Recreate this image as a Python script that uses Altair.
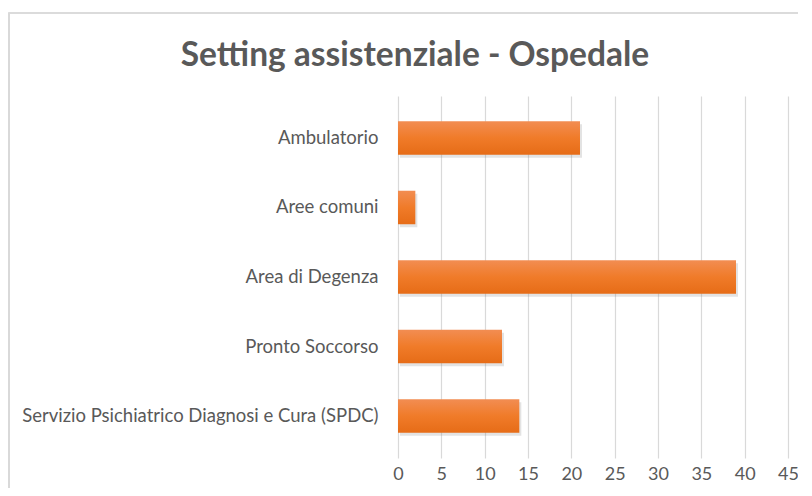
import altair as alt
import pandas as pd

categories = [
    "Ambulatorio",
    "Aree comuni",
    "Area di Degenza",
    "Pronto Soccorso",
    "Servizio Psichiatrico Diagnosi e Cura (SPDC)",
]
values = [21, 2, 39, 12, 14]
x_ticks = [0, 5, 10, 15, 20, 25, 30, 35, 40, 45]

df = pd.DataFrame({"setting": categories, "valore": values})

FONT = "Lato"
GREY = "#595959"

x_enc = alt.X(
    "valore:Q",
    scale=alt.Scale(domain=[0, 45], nice=False),
    axis=alt.Axis(
        values=x_ticks,
        title=None,
        domain=False,
        ticks=False,
        grid=True,
        gridColor="#d9d9d9",
        gridWidth=1.2,
        labelColor=GREY,
        labelFont=FONT,
        labelFontSize=18,
        labelPadding=7,
        labelFlush=False,
    ),
)
y_enc = alt.Y(
    "setting:N",
    sort=categories,
    scale=alt.Scale(paddingInner=0.518, paddingOuter=0.363),
    axis=alt.Axis(
        title=None,
        domain=False,
        ticks=False,
        grid=False,
        labelColor=GREY,
        labelFont=FONT,
        labelFontSize=18.5,
        labelPadding=20,
        labelLimit=500,
    ),
)

frame = alt.Chart(df).mark_rect(
    fill=None, stroke="#d9d9d9", strokeWidth=1.2, clip=False
).encode(
    x=alt.value(-389), x2=alt.value(430), y=alt.value(-83), y2=alt.value(420)
)

shadow = alt.Chart(df).mark_bar(
    color="#7f7f7f", opacity=0.22, xOffset=2, yOffset=3
).encode(x=x_enc, y=y_enc)

bars = alt.Chart(df).mark_bar(
    color=alt.Gradient(
        gradient="linear",
        x1=0, y1=0, x2=0, y2=1,
        stops=[
            alt.GradientStop(color="#f28d52", offset=0),
            alt.GradientStop(color="#f07b29", offset=0.5),
            alt.GradientStop(color="#e66c17", offset=1),
        ],
    )
).encode(x=x_enc, y=y_enc, tooltip=["setting", "valore"])

chart = (
    alt.layer(frame, shadow, bars)
    .properties(
        width=390,
        height=362,
        autosize=alt.AutoSizeParams(type="none"),
        padding={"left": 390, "top": 88, "right": 10, "bottom": 30},
        title=alt.TitleParams(
            "Setting assistenziale - Ospedale",
            font=FONT,
            fontSize=33.5,
            fontWeight="bold",
            color=GREY,
            anchor="middle",
            dx=-178,
            offset=-61,
        ),
    )
    .configure_view(stroke=None)
)

chart.save("out.html", embed_options={"renderer": "svg", "actions": False})
